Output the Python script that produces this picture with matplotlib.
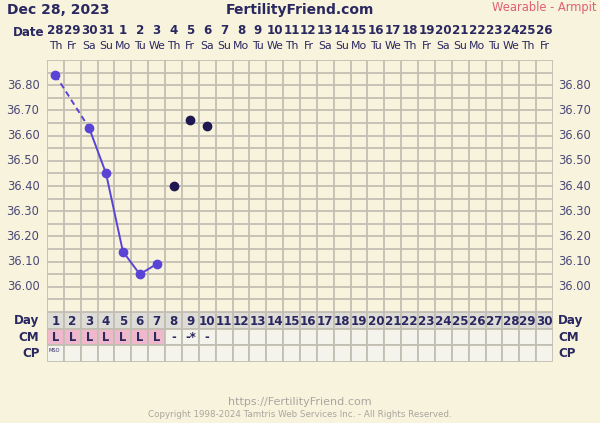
import matplotlib
matplotlib.use("Agg")
import matplotlib.pyplot as plt
import matplotlib.transforms as mtransforms

# ---- data ----
days = list(range(1, 31))
dates = ["28", "29", "30", "31"] + [str(d) for d in range(1, 27)]
weekdays = ["Th", "Fr", "Sa", "Su", "Mo", "Tu", "We"] * 5
weekdays = weekdays[:30]
# charted temperatures (connected)
temp_days = [1, 3, 4, 5, 6, 7]
temp_vals = [36.84, 36.63, 36.45, 36.14, 36.05, 36.09]
# discarded / unconnected temperatures
other_days = [8, 9, 10]
other_vals = [36.40, 36.66, 36.64]
ytick_vals = [36.00, 36.10, 36.20, 36.30, 36.40, 36.50, 36.60, 36.70, 36.80]
cm_labels = ["L", "L", "L", "L", "L", "L", "L", "-", "-*", "-"]
cm_pink_days = [1, 2, 3, 4, 5, 6, 7]
cp_labels = {1: "MSO"}

# ---- style ----
BG = "#f8f3dc"
GRID = "#c2beb2"
NAVY = "#2a2860"
TICK = "#4a4878"
LINE = "#5a44d6"
DARK = "#1f1852"
PINK = "#f0b8cc"
CELL = "#f4f3ec"
DAYBG = "#dedcd6"

W, H = 600, 423
fig = plt.figure(figsize=(W / 100, H / 100), dpi=100, facecolor=BG)


def rect(l, t, r, b):
    return [l / W, 1 - b / H, (r - l) / W, (b - t) / H]


L, R = 47, 553
ax = fig.add_axes(rect(L, 60, R, 312))
ax.set_facecolor(BG)
ax.set_xlim(0.5, 30.5)
ax.set_ylim(35.90, 36.90)
for x in [d + 0.5 for d in range(0, 31)]:
    ax.axvline(x, color=GRID, lw=1.3, zorder=1)
for i in range(21):
    ax.axhline(35.90 + 0.05 * i, color=GRID, lw=1.3, zorder=1)
for s in ax.spines.values():
    s.set_visible(False)
ax.set_xticks([])
ax.set_yticks([])

# tick labels both sides
for v in ytick_vals:
    ax.text(-0.015, v, f"{v:.2f}", transform=ax.get_yaxis_transform(),
            ha="right", va="center", fontsize=8.3, color=TICK, clip_on=False)
    ax.text(1.01, v, f"{v:.2f}", transform=ax.get_yaxis_transform(),
            ha="left", va="center", fontsize=8.3, color=TICK, clip_on=False)

# temperature line: dashed across the gap, solid otherwise
ax.plot(temp_days[:2], temp_vals[:2], color=LINE, lw=1.4, ls=(0, (3, 2)), zorder=3)
ax.plot(temp_days[1:], temp_vals[1:], color=LINE, lw=1.4, zorder=3)
ax.plot(temp_days, temp_vals, "o", color=LINE, ms=6, zorder=4)
ax.plot(other_days, other_vals, "o", color=DARK, ms=6, zorder=4)

# header rows: dates and weekdays
tr = mtransforms.blended_transform_factory(ax.transData, fig.transFigure)
for d, dt, wd in zip(days, dates, weekdays):
    ax.text(d, 1 - 30 / H, dt, transform=tr, ha="center", va="center",
            fontsize=8.6, fontweight="bold", color=NAVY, clip_on=False)
    ax.text(d, 1 - 46 / H, wd, transform=tr, ha="center", va="center",
            fontsize=7.8, color=NAVY, clip_on=False)
fig.text(44 / W, 1 - 33 / H, "Date", ha="right", va="center",
         fontsize=8.6, fontweight="bold", color=NAVY)

fig.text(7 / W, 1 - 10 / H, "Dec 28, 2023", ha="left", va="center",
         fontsize=10, fontweight="bold", color=NAVY)
fig.text(300 / W, 1 - 10 / H, "FertilityFriend.com", ha="center", va="center",
         fontsize=10, fontweight="bold", color=NAVY)
fig.text(596 / W, 1 - 8 / H, "Wearable - Armpit", ha="right", va="center",
         fontsize=8.3, color="#e06070")

# bottom table
tb = fig.add_axes(rect(L, 312, R, 362))
tb.set_xlim(0.5, 30.5)
tb.set_ylim(3, 0)
for s in tb.spines.values():
    s.set_visible(False)
tb.set_xticks([])
tb.set_yticks([])
tb.set_facecolor(BG)
for d in days:
    tb.add_patch(plt.Rectangle((d - 0.5, 0), 1, 1, facecolor=DAYBG, edgecolor=GRID, lw=1.3))
    fc = PINK if d in cm_pink_days else CELL
    tb.add_patch(plt.Rectangle((d - 0.5, 1), 1, 1, facecolor=fc, edgecolor=GRID, lw=1.3))
    tb.add_patch(plt.Rectangle((d - 0.5, 2), 1, 1, facecolor=CELL, edgecolor=GRID, lw=1.3))
    tb.text(d, 0.55, str(d), ha="center", va="center", fontsize=8.6,
            fontweight="bold", color=NAVY)
for d, lab in zip(days, cm_labels):
    tb.text(d, 1.5, lab, ha="center", va="center", fontsize=8.3,
            fontweight="bold", color=NAVY)
for d, lab in cp_labels.items():
    tb.text(d - 0.42, 2.3, lab, ha="left", va="center", fontsize=3.6, color=NAVY)

for i, lab in enumerate(["Day", "CM", "CP"]):
    tb.text(-0.015, (i + 0.5) / 3, lab, transform=tb.transAxes, ha="right", va="center",
            fontsize=8.6, fontweight="bold", color=NAVY, clip_on=False)
    tb.text(1.01, (i + 0.5) / 3, lab, transform=tb.transAxes, ha="left", va="center",
            fontsize=8.6, fontweight="bold", color=NAVY, clip_on=False)
# invert because ylim reversed: transAxes y=0 is bottom
for t in tb.texts[-6:]:
    x, y = t.get_position()
    t.set_position((x, 1 - y))

fig.text(300 / W, 1 - 402 / H, "https://FertilityFriend.com", ha="center", va="center",
         fontsize=8, color="#a8a6a0")
fig.text(300 / W, 1 - 414 / H, "Copyright 1998-2024 Tamtris Web Services Inc. - All Rights Reserved.",
         ha="center", va="center", fontsize=6.3, color="#a8a6a0")

fig.savefig("out.png", dpi=100, facecolor=BG)
